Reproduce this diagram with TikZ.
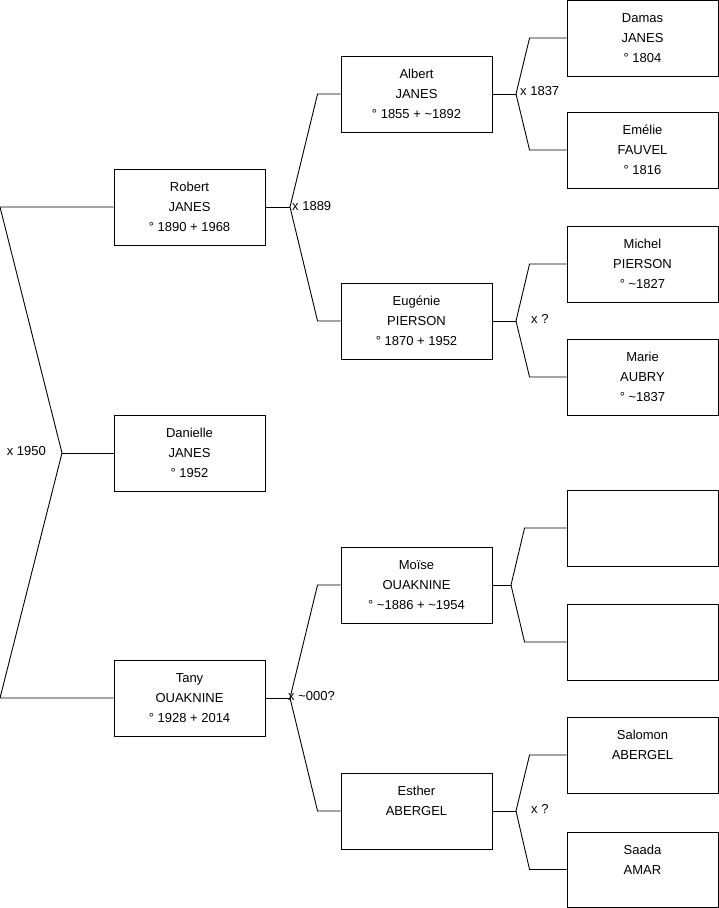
\documentclass[tikz,border=0pt]{standalone}
\usepackage{fontspec}
\setmainfont{Liberation Sans}
\usetikzlibrary{positioning, calc}

\begin{document}
\begin{tikzpicture}[
    x=1pt, y=-1pt,
    person/.style={draw, line width=0.9pt, minimum width=151pt, minimum height=76pt,
        align=center, inner sep=0pt, font=\fontsize{13}{20}\selectfont},
    link/.style={line width=0.9pt},
    union/.style={font=\fontsize{13}{14}\selectfont, inner sep=0pt}
]
    \useasboundingbox (0,0) rectangle (719,908);

    % generation 1
    \node[person] (danielle) at (189.5, 453) {Danielle\\JANES\\° 1952};

    % generation 2
    \node[person] (robert) at (189.5, 207) {Robert\\JANES\\° 1890 + 1968};
    \node[person] (tany) at (189.5, 698) {Tany\\OUAKNINE\\° 1928 + 2014};

    % generation 3
    \node[person] (albert) at (416.5, 94) {Albert\\JANES\\° 1855 + \textasciitilde1892};
    \node[person] (eugenie) at (416.5, 321) {Eugénie\\PIERSON\\° 1870 + 1952};
    \node[person] (moise) at (416.5, 585) {Moïse\\OUAKNINE\\° \textasciitilde1886 + \textasciitilde1954};
    \node[person] (esther) at (416.5, 811) {Esther\\ABERGEL\\\mbox{}};

    % generation 4
    \node[person] (damas) at (642.5, 38) {Damas\\JANES\\° 1804};
    \node[person] (emelie) at (642.5, 150) {Emélie\\FAUVEL\\° 1816};
    \node[person] (michel) at (642.5, 264) {Michel\\PIERSON\\° \textasciitilde1827};
    \node[person] (marie) at (642.5, 377) {Marie\\AUBRY\\° \textasciitilde1837};
    \node[person] (blanka) at (642.5, 528) {};
    \node[person] (blankb) at (642.5, 642) {};
    \node[person] (salomon) at (642.5, 755) {Salomon\\ABERGEL\\\mbox{}};
    \node[person, minimum height=75pt] (saada) at (642.5, 869.5) {Saada\\AMAR\\\mbox{}};

    % unions
    \coordinate (top) at (0, 207);
    \coordinate (bot) at (0, 698);
    \coordinate (m0) at (62, 453);
    \coordinate (m1) at (290, 207);
    \coordinate (m2) at (290, 698);
    \coordinate (m3) at (516, 94);
    \coordinate (m4) at (516, 321);
    \coordinate (m5) at (511, 585);
    \coordinate (m6) at (516, 811);

    \draw[link] (robert.west) -- (top) -- (m0) -- (bot) -- (tany.west);
    \draw[link] (m0) -- (danielle.west);

    \draw[link] (robert.east) -- (m1);
    \draw[link] (m1) -- ([xshift=-23pt]albert.west) -- (albert.west);
    \draw[link] (m1) -- ([xshift=-23pt]eugenie.west) -- (eugenie.west);

    \draw[link] (tany.east) -- (m2);
    \draw[link] (m2) -- ([xshift=-23pt]moise.west) -- (moise.west);
    \draw[link] (m2) -- ([xshift=-23pt]esther.west) -- (esther.west);

    \draw[link] (albert.east) -- (m3);
    \draw[link] (m3) -- ([xshift=-37pt]damas.west) -- (damas.west);
    \draw[link] (m3) -- ([xshift=-37pt]emelie.west) -- (emelie.west);

    \draw[link] (eugenie.east) -- (m4);
    \draw[link] (m4) -- ([xshift=-37pt]michel.west) -- (michel.west);
    \draw[link] (m4) -- ([xshift=-37pt]marie.west) -- (marie.west);

    \draw[link] (moise.east) -- (m5);
    \draw[link] (m5) -- ([xshift=-42pt]blanka.west) -- (blanka.west);
    \draw[link] (m5) -- ([xshift=-42pt]blankb.west) -- (blankb.west);

    \draw[link] (esther.east) -- (m6);
    \draw[link] (m6) -- ([xshift=-37pt]salomon.west) -- (salomon.west);
    \draw[link] (m6) -- ([xshift=-37pt]saada.west) -- (saada.west);

    % union labels
    \node[union, anchor=east] (u0) at (46, 451) {x 1950};
    \node[union, anchor=west] (u1) at (292, 206) {x 1889};
    \node[union, anchor=west] (u2) at (288, 696) {x \textasciitilde000?};
    \node[union, anchor=west] (u3) at (520, 91) {x 1837};
    \node[union, anchor=west] (u4) at (531, 319) {x ?};
    \node[union, anchor=west] (u6) at (531, 809) {x ?};
\end{tikzpicture}
\end{document}
